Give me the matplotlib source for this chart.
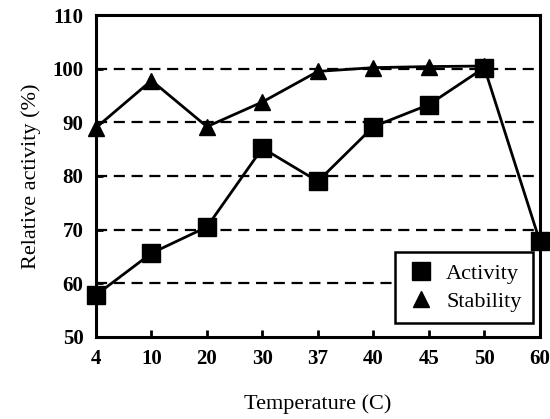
import numpy as np
import matplotlib.pyplot as plt

plt.rcParams['font.family'] = ['Liberation Serif', 'DejaVu Serif']

temps = ['4', '10', '20', '30', '37', '40', '45', '50', '60']
activity = [57.8, 65.6, 70.5, 85.2, 79.0, 89.2, 93.3, 100.2, 67.8]
stability = [89.0, 97.8, 89.2, 93.8, 99.5, 100.2, 100.4, 100.5]

fig = plt.figure(figsize=(5.5, 4.19), dpi=100)
ax = fig.add_axes([0.1745, 0.196, 0.807, 0.768])

x = np.arange(len(temps))
for y in [60, 70, 80, 90, 100]:
    ax.axhline(y, color='black', linewidth=1.6, linestyle=(0, (5, 3)), zorder=1)

ax.plot(x, activity, color='black', linewidth=2, marker='s', markersize=13,
        markerfacecolor='black', markeredgecolor='black', label='Activity',
        zorder=3, clip_on=False)
ax.plot(x[:len(stability)], stability, color='black', linewidth=2, marker='^',
        markersize=12, markerfacecolor='black', label='Stability', zorder=3,
        clip_on=False)

ax.set_xlim(0, len(temps) - 1)
ax.set_ylim(50, 110)
ax.set_xticks(x)
ax.set_xticklabels(temps)
ax.set_yticks([50, 60, 70, 80, 90, 100, 110])
ax.tick_params(direction='in', length=5, width=2, labelsize=15, pad=9)
for lab in ax.get_xticklabels() + ax.get_yticklabels():
    lab.set_fontweight('bold')
for s in ax.spines.values():
    s.set_linewidth(2.2)

ax.set_ylabel('Relative activity (%)', fontsize=16, labelpad=8)
ax.set_xlabel('Temperature (C)', fontsize=16, labelpad=18)

leg = ax.legend(loc='lower right', bbox_to_anchor=(0.984, 0.043), fontsize=16,
                frameon=True, fancybox=False, edgecolor='black', framealpha=1,
                handlelength=1.3, handletextpad=0.5, borderpad=0.5, labelspacing=0.35,
                markerscale=0.95, borderaxespad=0)
leg.get_frame().set_linewidth(1.8)
for h in leg.legend_handles:
    h.set_linestyle('none')

fig.savefig('out.png', dpi=100, facecolor='white')
